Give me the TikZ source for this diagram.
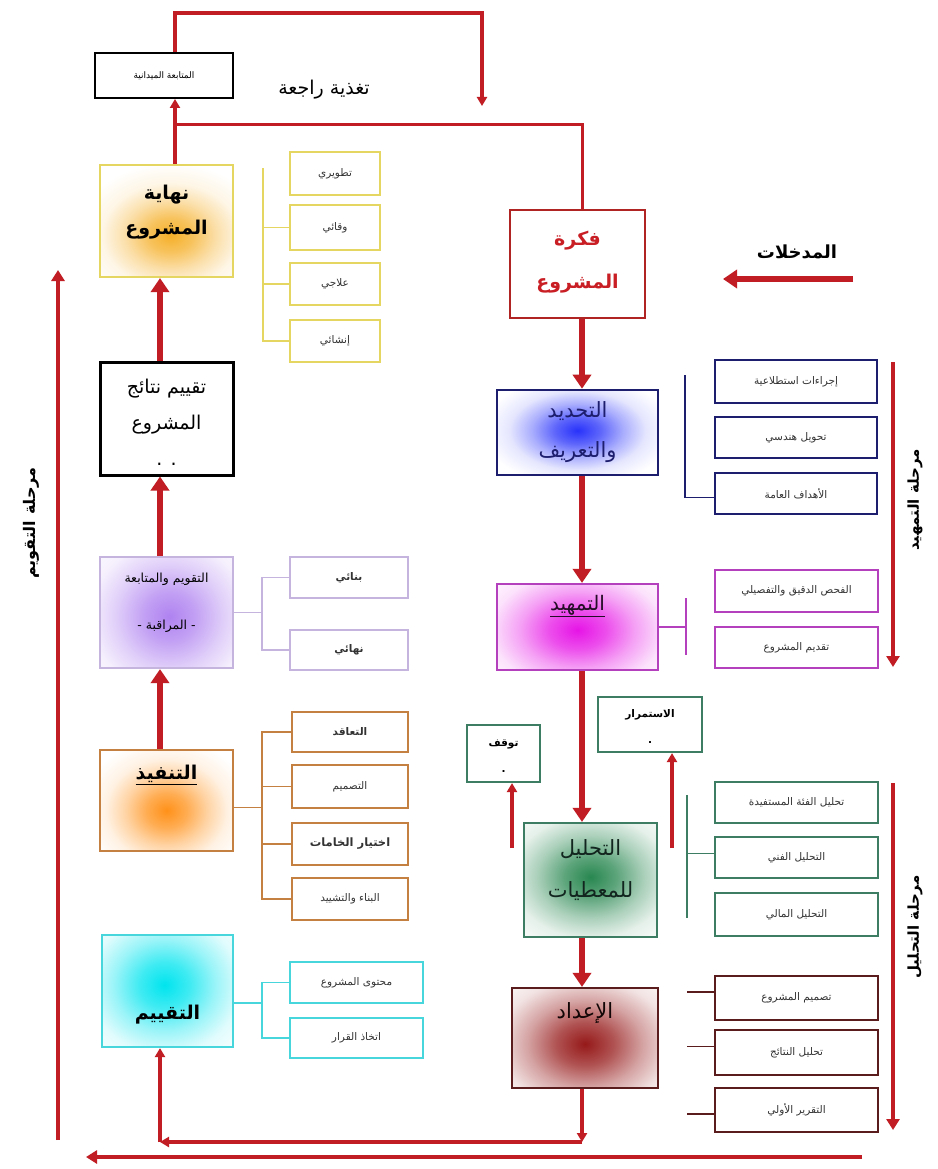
\documentclass[tikz,border=0pt]{standalone}
\usepackage{fontspec}
\newfontfamily\arfont[Script=Arabic]{DejaVu Sans}
\TeXXeTstate=1
\usetikzlibrary{arrows.meta,calc}
\newcommand\AR[1]{{\arfont\beginR #1\endR}}
\definecolor{arrred}{RGB}{192,30,36}
\definecolor{yelc}{RGB}{228,214,96}
\definecolor{goldc}{RGB}{245,175,40}
\definecolor{purc}{RGB}{196,180,222}
\definecolor{purg}{RGB}{175,130,240}
\definecolor{orac}{RGB}{196,128,64}
\definecolor{orag}{RGB}{255,145,25}
\definecolor{cyac}{RGB}{70,214,220}
\definecolor{cyag}{RGB}{0,228,238}
\definecolor{bluc}{RGB}{30,30,110}
\definecolor{blug}{RGB}{40,50,250}
\definecolor{magc}{RGB}{180,64,190}
\definecolor{magg}{RGB}{230,20,230}
\definecolor{grnc}{RGB}{60,125,100}
\definecolor{grng}{RGB}{40,135,80}
\definecolor{prpc}{RGB}{90,28,28}
\definecolor{prpg}{RGB}{150,25,25}
\definecolor{idc}{RGB}{176,36,36}
\definecolor{idtext}{RGB}{200,30,36}
\colorlet{glowc}{red}
\pgfdeclareradialshading[glowc]{softglow}{\pgfpoint{0bp}{0bp}}{color(0bp)=(glowc); color(6bp)=(glowc!75!white); color(12bp)=(glowc!40!white); color(18bp)=(glowc!12!white); color(25bp)=(white); color(50bp)=(white)}
\begin{document}
\begin{tikzpicture}[x=1pt,y=-1pt,
  wh/.style 2 args={minimum width=#1, minimum height=#2, inner sep=0pt},
  fs/.style 2 args={font=\arfont\fontsize{#1}{#2}\selectfont, align=center, inner sep=0pt},
  fsb/.style 2 args={font=\arfont\bfseries\fontsize{#1}{#2}\selectfont, align=center, inner sep=0pt},
  glow/.style n args={5}{path picture={\colorlet{glowc}{#1}\shade[shading=softglow] ($(path picture bounding box.center)+(#2,#3)$) ellipse (#4 and #5);}},
  mainbox/.style={line width=2.2pt},
  fat/.style={draw=arrred, line width=6.5pt, -{Triangle[width=18pt,length=14pt]}},
  midarr/.style={draw=arrred, line width=4.5pt, -{Triangle[width=13pt,length=11pt]}},
  thinarr/.style={draw=arrred, line width=3.2pt, -{Triangle[width=10pt,length=9pt]}},
  thinline/.style={draw=arrred, line width=3pt},
  sub/.style={draw, line width=1.8pt, inner sep=0pt, font=\arfont\fontsize{10.5}{12}\selectfont, text=black!80},
  subb/.style={sub, font=\arfont\bfseries\fontsize{10.5}{12}\selectfont},
  brk/.style={line width=1.8pt},
]
\useasboundingbox (0,0) rectangle (937,1169);
\fill[white] (0,0) rectangle (937,1169);

% helper coordinates
\coordinate (L) at (160,0);
\coordinate (T) at (175,0);
\coordinate (S) at (582,0);
\coordinate (top) at (0,13);
\coordinate (fb) at (175,125);
\coordinate (fbend) at (482,106);

% ---------- left column ----------
\node[draw=black, line width=2pt, wh={138pt}{45pt}, fs={9}{11}] (follow) at (164,75.5) {\AR{المتابعة الميدانية}};
\node[fs={19}{22}] (fbT) at (324,90) {\AR{تغذية راجعة}};

\node[draw=yelc, mainbox, wh={133pt}{112pt}, glow={goldc}{4}{14}{95}{72}] (endp) at (166.5,221) {};
\node[fsb={19}{35}] (endpT) at (166.5,212) {\AR{نهاية}\\\AR{المشروع}};

\node[sub, draw=yelc, wh={90pt}{43pt}] (y1) at (335,173.5) {\AR{تطويري}};
\node[sub, draw=yelc, wh={90pt}{45pt}] (y2) at (335,227.5) {\AR{وقائي}};
\node[sub, draw=yelc, wh={90pt}{42pt}] (y3) at (335,284) {\AR{علاجي}};
\node[sub, draw=yelc, wh={90pt}{42pt}] (y4) at (335,341) {\AR{إنشائي}};
\coordinate (yb) at (263,0);
\draw[brk, yelc] (yb |- 0,168) -- (yb |- y4.west) -- (y4.west);
\draw[brk, yelc] (y2.west) -- (y2.west -| yb);
\draw[brk, yelc] (y3.west) -- (y3.west -| yb);

\node[draw=black, line width=3pt, wh={133pt}{113pt}] (evalres) at (166.5,418.5) {};
\node[fs={19}{36}] (evalresT) at (166.5,422) {\AR{تقييم نتائج}\\\AR{المشروع}\\. .};

\node[draw=purc, mainbox, wh={133pt}{111pt}, glow={purg}{3}{4}{110}{105}] (monitor) at (166.5,612.5) {};
\node[fs={12.5}{47}] (monitorT) at (166.5,603) {\AR{التقويم والمتابعة}\\\AR{- المراقبة -}};
\node[subb, draw=purc, wh={118pt}{41pt}] (p1) at (349,577.5) {\AR{بنائي}};
\node[subb, draw=purc, wh={118pt}{40pt}] (p2) at (349,650) {\AR{نهائي}};
\coordinate (pb) at (262,0);
\draw[brk, purc] (monitor.east) -- (monitor.east -| pb);
\draw[brk, purc] (p1.west) -- (p1.west -| pb) -- (p2.west -| pb) -- (p2.west);

\node[draw=orac, mainbox, wh={133pt}{101pt}, glow={orag}{0}{10}{85}{72}] (impl) at (166.5,800.5) {};
\node[fsb={19}{22}] (implT) at (166.5,775) {\underline{\AR{التنفيذ}}};
\node[subb, draw=orac, wh={116pt}{40pt}] (o1) at (350,732) {\AR{التعاقد}};
\node[sub, draw=orac, wh={116pt}{43pt}] (o2) at (350,786.5) {\AR{التصميم}};
\node[subb, draw=orac, wh={116pt}{42pt}, font=\arfont\bfseries\fontsize{11.5}{13}\selectfont] (o3) at (350,844) {\AR{اختيار الخامات}};
\node[sub, draw=orac, wh={116pt}{42pt}] (o4) at (350,899) {\AR{البناء والتشييد}};
\coordinate (ob) at (262,0);
\draw[brk, orac] ($(impl.east)+(0,7)$) -- ($(impl.east -| ob)+(0,7)$);
\draw[brk, orac] (o1.west) -- (o1.west -| ob) -- (o4.west -| ob) -- (o4.west);
\draw[brk, orac] (o2.west) -- (o2.west -| ob);
\draw[brk, orac] (o3.west) -- (o3.west -| ob);

\node[draw=cyac, mainbox, wh={131pt}{112pt}, glow={cyag}{-3}{-6}{105}{95}] (assess) at (167.5,991) {};
\node[fsb={19}{22}] (assessT) at (167.5,1015) {\AR{التقييم}};
\node[sub, draw=cyac, wh={133pt}{41pt}] (c1) at (356.5,982.5) {\AR{محتوى المشروع}};
\node[sub, draw=cyac, wh={133pt}{40pt}] (c2) at (356.5,1038) {\AR{اتخاذ القرار}};
\coordinate (cb) at (262,0);
\draw[brk, cyac] ($(assess.east)+(0,12)$) -- ($(assess.east -| cb)+(0,12)$);
\draw[brk, cyac] (c1.west) -- (c1.west -| cb) -- (c2.west -| cb) -- (c2.west);

% ---------- right column ----------
\node[draw=idc, mainbox, wh={135pt}{108pt}] (idea) at (577.5,264) {};
\node[fsb={19}{43}, text=idtext] (ideaT) at (577.5,262) {\AR{فكرة}\\\AR{المشروع}};
\node[fsb={18}{22}] (inT) at (797,252) {\AR{المدخلات}};

\node[draw=bluc, line width=2.6pt, wh={161pt}{85pt}, glow={blug}{0}{-2}{95}{55}] (define) at (577.5,432.5) {};
\node[fs={21}{40}, text=bluc] (defineT) at (577.5,432) {\AR{التحديد}\\\AR{والتعريف}};
\node[sub, draw=bluc, line width=2.2pt, wh={162pt}{43pt}] (b1) at (796,381.5) {\AR{إجراءات استطلاعية}};
\node[sub, draw=bluc, line width=2.2pt, wh={162pt}{41pt}] (b2) at (796,437.5) {\AR{تحويل هندسي}};
\node[sub, draw=bluc, line width=2.2pt, wh={162pt}{41pt}] (b3) at (796,493.5) {\AR{الأهداف العامة}};
\coordinate (bb) at (685,0);
\draw[brk, bluc] (bb |- 0,375) -- ($(bb |- b3.west)+(0,4)$) -- ($(b3.west)+(0,4)$);

\node[draw=magc, mainbox, wh={161pt}{86pt}, glow={magg}{0}{3}{120}{80}] (prelim) at (577.5,627) {};
\node[fs={20}{24}, text=black!80!magc] (prelimT) at (577.5,606) {\underline{\AR{التمهيد}}};
\node[sub, draw=magc, wh={163pt}{42pt}] (m1) at (796.5,591) {\AR{الفحص الدقيق والتفصيلي}};
\node[sub, draw=magc, wh={163pt}{41pt}] (m2) at (796.5,647.5) {\AR{تقديم المشروع}};
\coordinate (mb) at (686,0);
\draw[brk, magc] (prelim.east) -- (prelim.east -| mb);
\draw[brk, magc] (mb |- 0,598) -- (mb |- 0,655);

\node[draw=grnc, mainbox, wh={73pt}{57pt}] (stop) at (503.5,753.5) {};
\node[fsb={10.5}{26}] (stopT) at (503.5,756) {\AR{توقف}\\.};
\node[draw=grnc, mainbox, wh={104pt}{55pt}] (cont) at (650,724.5) {};
\node[fsb={10.5}{26}] (contT) at (650,727) {\AR{الاستمرار}\\.};

\node[draw=grnc, mainbox, wh={133pt}{114pt}, glow={grng}{0}{-3}{110}{85}] (analysis) at (590.5,880) {};
\node[fs={21}{42}, text=black!70!grnc] (analysisT) at (590.5,870) {\AR{التحليل}\\\AR{للمعطيات}};
\node[sub, draw=grnc, wh={163pt}{41pt}] (g1) at (796.5,802.5) {\AR{تحليل الفئة المستفيدة}};
\node[sub, draw=grnc, wh={163pt}{41pt}] (g2) at (796.5,857.5) {\AR{التحليل الفني}};
\node[sub, draw=grnc, wh={163pt}{43pt}] (g3) at (796.5,914.5) {\AR{التحليل المالي}};
\coordinate (gb) at (687,0);
\draw[brk, grnc] (gb |- 0,795) -- (gb |- 0,918);
\draw[brk, grnc] ($(g2.west)+(0,-4)$) -- ($(g2.west -| gb)+(0,-4)$);

\node[draw=prpc, mainbox, wh={146pt}{100pt}, glow={prpg}{0}{6}{120}{90}] (prep) at (585,1038) {};
\node[fs={21}{24}, text=black!80!prpc] (prepT) at (585,1013) {\AR{الإعداد}};
\node[sub, draw=prpc, wh={163pt}{44pt}] (r1) at (796.5,998) {\AR{تصميم المشروع}};
\node[sub, draw=prpc, wh={163pt}{45pt}] (r2) at (796.5,1052.5) {\AR{تحليل النتائج}};
\node[sub, draw=prpc, wh={163pt}{44pt}] (r3) at (796.5,1110) {\AR{التقرير الأولي}};
\coordinate (rb) at (687,0);
\draw[brk, prpc] ($(r1.west)+(0,-6)$) -- ($(r1.west -| rb)+(0,-6)$);
\draw[brk, prpc] ($(r2.west)+(0,-6)$) -- ($(r2.west -| rb)+(0,-6)$);
\draw[brk, prpc] ($(r3.west)+(0,4)$) -- ($(r3.west -| rb)+(0,4)$);

% phase labels
\node[fsb={16}{20}, rotate=90] (ph3) at (31,523) {\AR{مرحلة التقويم}};
\node[fsb={15}{18}, rotate=90] (ph1) at (915,500) {\AR{مرحلة التمهيد}};
\node[fsb={15}{18}, rotate=90] (ph2) at (915,927) {\AR{مرحلة التحليل}};

% ---------- connectors ----------
\draw[fat] (evalres.north -| L) -- (endp.south -| L);
\draw[fat] (monitor.north -| L) -- (evalres.south -| L);
\draw[fat] (impl.north -| L) -- (monitor.south -| L);

\draw[thinarr] (endp.north -| T) -- (follow.south -| T);
\draw[thinline] (idea.north -| S) |- (fb);
\draw[thinarr] (follow.north -| T) -- (T |- top) -| (fbend);

\draw[fat] (idea.south -| S) -- (define.north -| S);
\draw[fat] (define.south -| S) -- (prelim.north -| S);
\draw[fat] (prelim.south -| S) -- (analysis.north -| S);
\draw[fat] (analysis.south -| S) -- (prep.north -| S);

\coordinate (inR) at (853,279);
\coordinate (inE) at (723,279);
\draw[fat] (inR) -- (inE);
\coordinate (stA) at (512,848);
\coordinate (coA) at (672,848);
\draw[thinarr] (stA) -- (stA |- stop.south);
\draw[thinarr] (coA) -- (coA |- cont.south);

\coordinate (bL) at (160,1142);
\draw[thinarr] (prep.south -| S) -- (S |- bL);
\draw[thinarr] (S |- bL) -- (bL);
\draw[thinarr] (bL) -- (assess.south -| bL);

\coordinate (bR) at (862,1157);
\coordinate (bE) at (86,1157);
\draw[midarr] (bR) -- (bE);
\coordinate (lB) at (58,1140);
\coordinate (lT) at (58,270);
\draw[midarr] (lB) -- (lT);
\coordinate (p1s) at (893,362);
\coordinate (p1e) at (893,667);
\draw[midarr] (p1s) -- (p1e);
\coordinate (p2s) at (893,783);
\coordinate (p2e) at (893,1130);
\draw[midarr] (p2s) -- (p2e);
\end{tikzpicture}
\end{document}
